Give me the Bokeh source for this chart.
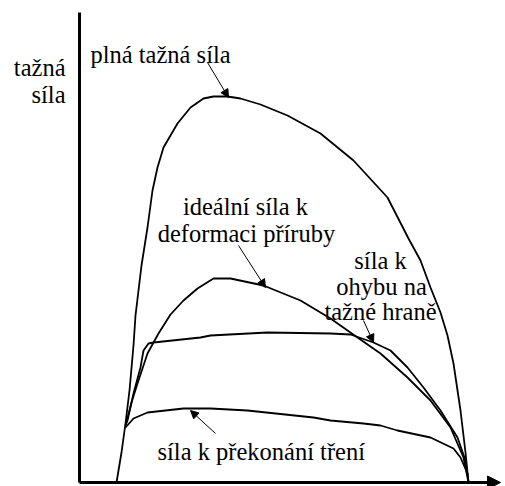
from bokeh.plotting import figure
from bokeh.models import Label, Arrow, NormalHead, Range1d, FixedTicker
from bokeh.embed import file_html
from bokeh.resources import INLINE

# data: stroke (x) vs drawing force (y), arbitrary units
full_x = [37, 42, 46, 50, 54, 56, 59, 62, 68, 73, 78, 84, 98, 111, 124, 134, 148, 161, 181, 208, 241, 274, 308, 329, 341, 351, 361, 368, 374, 381, 386, 389]
full_y = [0, 30, 59, 92, 137, 167, 192, 217, 255, 292, 315, 335, 359, 375, 384, 386, 386, 384, 378, 367, 349, 322, 285, 244, 222, 195, 170, 147, 119, 72, 30, 0]

ideal_x = [46, 52, 58, 68, 79, 91, 104, 118, 134, 151, 184, 221, 251, 278, 301, 328, 351, 371, 384, 389]
ideal_y = [57, 80, 99, 129, 149, 168, 182, 194, 204, 204, 197, 182, 164, 145, 129, 105, 82, 55, 25, 0]

bend_x = [46, 48, 54, 61, 64, 69, 74, 121, 131, 188, 251, 271, 294, 311, 328, 344, 361, 378, 386, 389]
bend_y = [57, 62, 89, 115, 132, 139, 140, 145, 147, 150, 149, 148, 140, 132, 115, 95, 72, 45, 22, 0]

fric_x = [46, 54, 68, 104, 131, 168, 234, 251, 284, 301, 318, 351, 374, 381, 388, 389]
fric_y = [55, 64, 70, 74, 74, 72, 65, 62, 59, 57, 52, 45, 34, 25, 9, 0]

y_label = ["tažná", "síla"]
full_label = "plná tažná síla"
ideal_label = ["ideální síla k", "deformaci příruby"]
bend_label = ["síla k", "ohybu na", "tažné hraně"]
fric_label = "síla k překonání tření"

X_MAX = 421
Y_MAX = 470

FONT = "Liberation Serif"
FS = "24.5px"

p = figure(width=505, height=486, output_backend="svg", toolbar_location=None,
           x_range=Range1d(-79, 426), y_range=Range1d(-4, 482),
           min_border=0, min_border_left=0, min_border_right=0,
           min_border_top=0, min_border_bottom=0)
p.outline_line_color = None
p.grid.visible = False
p.xaxis.fixed_location = 0
p.yaxis.fixed_location = 0
p.xaxis.bounds = (0, X_MAX - 10)
p.yaxis.bounds = (0, Y_MAX)
for ax in (p.xaxis, p.yaxis):
    ax.ticker = FixedTicker(ticks=[])
    ax.axis_line_width = 3
    ax.axis_line_color = "black"
    ax.major_tick_line_color = None
    ax.minor_tick_line_color = None
    ax.major_label_text_color = None

for xs, ys in ((full_x, full_y), (ideal_x, ideal_y), (bend_x, bend_y), (fric_x, fric_y)):
    p.line(xs, ys, line_color="black", line_width=1.8)

# x axis arrow head
p.add_layout(Arrow(end=NormalHead(size=13, fill_color="black", line_color="black"),
                   x_start=X_MAX - 12, y_start=0, x_end=X_MAX, y_end=0, line_width=3, line_color="black"))

# pointer arrows
for xs0, ys0, xe, ye in ((128, 420, 149, 385), (159, 237, 186, 195), (284, 162, 294, 140), (136, 49, 111, 72)):
    p.add_layout(Arrow(end=NormalHead(size=8, fill_color="black", line_color="black"),
                       x_start=xs0, y_start=ys0, x_end=xe, y_end=ye, line_width=1, line_color="black"))

def lab(x, y, t, align):
    p.add_layout(Label(x=x, y=y, text=t, text_align=align, text_baseline="alphabetic",
                       text_font=FONT, text_font_size=FS, text_color="black"))

lab(-14, 415, y_label[0], "right")
lab(-14, 388, y_label[1], "right")
lab(11, 428, full_label, "left")
lab(166, 276, ideal_label[0], "center")
lab(167, 249, ideal_label[1], "center")
lab(301, 222, bend_label[0], "center")
lab(302, 196, bend_label[1], "center")
lab(301, 171, bend_label[2], "center")
lab(78, 31, fric_label, "left")

open("out.html", "w").write(file_html(p, INLINE))
